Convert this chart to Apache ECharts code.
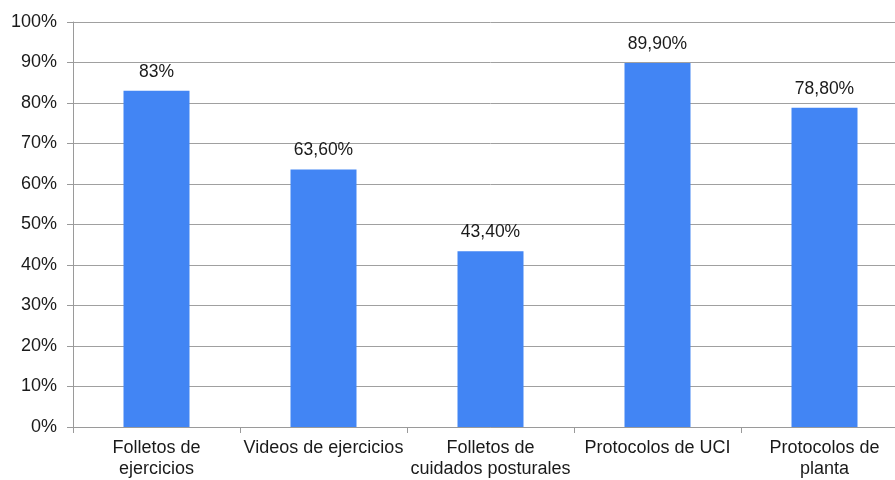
<!DOCTYPE html>
<html><head><meta charset="utf-8">
<script src="https://cdn.jsdelivr.net/npm/echarts@6/dist/echarts.min.js"></script>
<style>html,body{margin:0;padding:0;background:#fff;overflow:hidden;width:895px;height:480px}#c{width:920px;height:480px}</style>
</head><body><div id="c"></div>
<script>
const categories = ["Folletos de\nejercicios", "Videos de ejercicios", "Folletos de\ncuidados posturales", "Protocolos de UCI", "Protocolos de\nplanta"];
const values = [83, 63.6, 43.4, 89.9, 78.8];
const valueLabels = ["83%", "63,60%", "43,40%", "89,90%", "78,80%"];
const yTicks = [0, 10, 20, 30, 40, 50, 60, 70, 80, 90, 100];

const chart = echarts.init(document.getElementById('c'), null, {renderer: 'canvas'});
chart.setOption({
  animation: false,
  grid: {left: 73, top: 22, right: 12, bottom: 53, containLabel: false, outerBoundsMode: 'none'},
  xAxis: {
    type: 'category', data: categories,
    axisLine: {lineStyle: {color: '#9a9a9a', width: 1}},
    axisTick: {show: true, alignWithLabel: false, length: 6, lineStyle: {color: '#9a9a9a'}},
    axisLabel: {color: '#1a1a1a', fontFamily: 'Liberation Sans, Arial', fontSize: 18, lineHeight: 21, margin: 11, interval: 0}
  },
  yAxis: {
    type: 'value', min: 0, max: 100, interval: 10,
    axisLine: {show: true, lineStyle: {color: '#9a9a9a'}},
    axisTick: {show: true, length: 6, lineStyle: {color: '#9a9a9a'}},
    splitLine: {show: true, lineStyle: {color: '#a0a0a0', width: 1}},
    axisLabel: {color: '#1a1a1a', fontFamily: 'Liberation Sans, Arial', fontSize: 18, margin: 16,
      formatter: v => yTicks.includes(v) ? v + '%' : ''}
  },
  series: [{
    type: 'bar', data: values, barWidth: 66,
    itemStyle: {color: '#4285f4'},
    label: {show: true, position: 'top', distance: 10, color: '#1a1a1a', fontFamily: 'Liberation Sans, Arial', fontSize: 17.5,
      formatter: p => valueLabels[p.dataIndex]}
  }]
});
</script></body></html>
